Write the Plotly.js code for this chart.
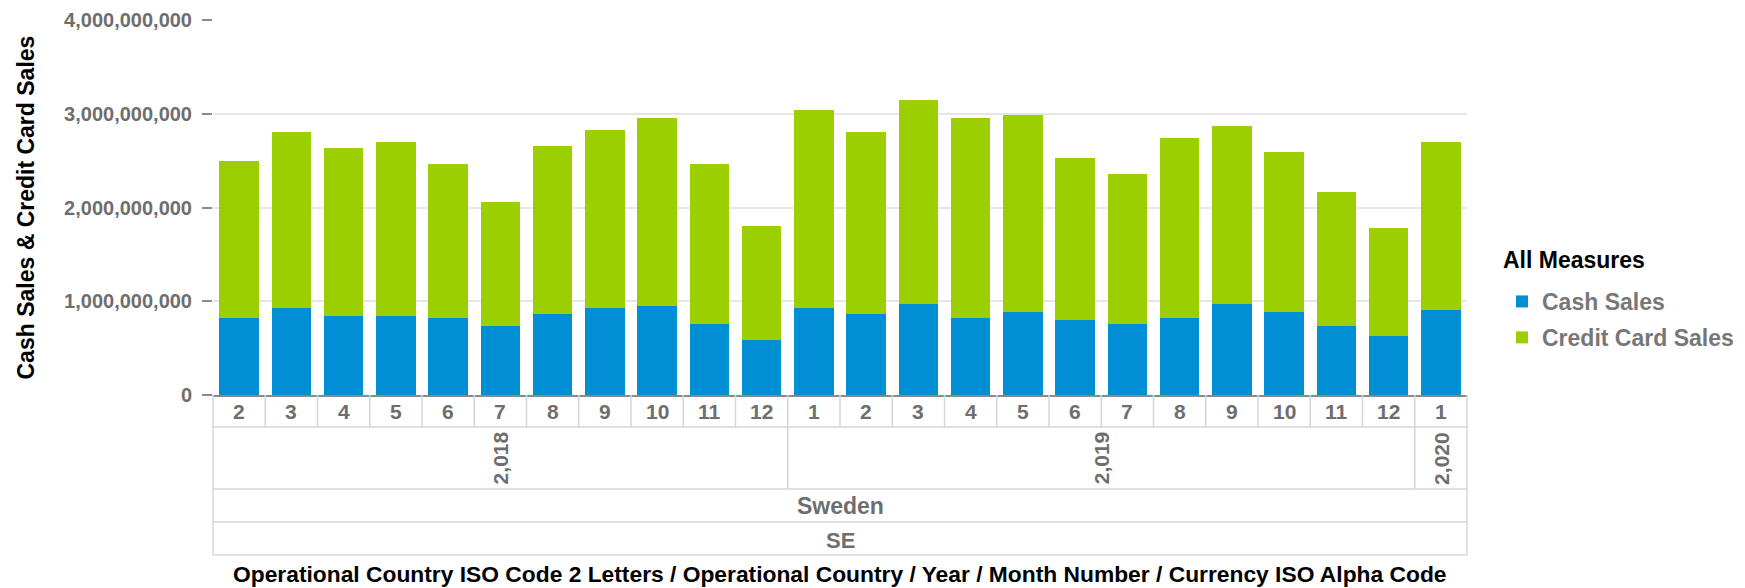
<!DOCTYPE html>
<html>
<head>
<meta charset="utf-8">
<script src="https://cdn.plot.ly/plotly-3.0.1.min.js"></script>
<style>html,body{margin:0;padding:0;background:#fff;}#chart{width:1745px;height:588px;}</style>
</head>
<body>
<div id="chart"></div>
<script>
// ---- data ----
const countryCode = 'SE';
const countryName = 'Sweden';
const years  = [2018,2018,2018,2018,2018,2018,2018,2018,2018,2018,2018,
                2019,2019,2019,2019,2019,2019,2019,2019,2019,2019,2019,2019,
                2020];
const months = [2,3,4,5,6,7,8,9,10,11,12,
                1,2,3,4,5,6,7,8,9,10,11,12,
                1];
const cashSales = [821000000, 928000000, 843000000, 843000000, 821000000, 736000000,
                   864000000, 928000000, 949000000, 757000000, 587000000,
                   928000000, 864000000, 971000000, 821000000, 885000000, 800000000,
                   757000000, 821000000, 971000000, 885000000, 736000000, 629000000,
                   907000000];
const creditCardSales = [1672000000, 1881000000, 1795000000, 1859000000, 1646000000, 1323000000,
                         1796000000, 1902000000, 2009000000, 1710000000, 1216000000,
                         2115000000, 1945000000, 2179000000, 2137000000, 2098000000, 1732000000,
                         1604000000, 1924000000, 1902000000, 1711000000, 1433000000, 1156000000,
                         1795000000];
const yTickVals = [0, 1000000000, 2000000000, 3000000000, 4000000000];

// ---- build ----
const keys = years.map((y, i) => y + '-' + months[i]);
const n = keys.length;
const FONT = '"Liberation Sans", Arial, sans-serif';
const GRAY = '#6e6e6e';
const LINE = '#d6d6d6';

const traces = [
  {type:'bar', name:'Cash Sales', x:keys, y:cashSales, legendgroup:'a',
   marker:{color:'#008FD3'}, hoverinfo:'x+y+name'},
  {type:'bar', name:'Credit Card Sales', x:keys, y:creditCardSales, legendgroup:'b',
   marker:{color:'#9BCF00'}, hoverinfo:'x+y+name'}
];

// paper y positions (plot area: 375px tall, x axis line at paper 0)
const H = 375;
const py = px => -px / H;   // px below the x axis line
const rowMonthBottom = py(32), rowYearBottom = py(94), rowCountryBottom = py(127), rowCodeBottom = py(160);

const shapes = [];
function hline(y){ shapes.push({type:'line', xref:'paper', yref:'paper', x0:0, x1:1, y0:y, y1:y, line:{color:LINE, width:1.5}}); }
function vline(x, y0, y1){ shapes.push({type:'line', xref:'paper', yref:'paper', x0:x, x1:x, y0:y0, y1:y1, line:{color:LINE, width:1.5}}); }
[rowMonthBottom, rowYearBottom, rowCountryBottom, rowCodeBottom].forEach(hline);
vline(0, 0, rowCodeBottom); vline(1, 0, rowCodeBottom);
for (let i = 1; i < n; i++) vline(i / n, 0, rowMonthBottom);
for (let i = 1; i < n; i++) if (years[i] !== years[i-1]) vline(i / n, rowMonthBottom, rowYearBottom);

const annotations = [];
keys.forEach((k, i) => annotations.push({
  x:k, xref:'x', y:py(16), yref:'paper', text:String(months[i]), showarrow:false,
  xanchor:'center', yanchor:'middle', font:{family:FONT, size:21, color:GRAY, weight:'bold'}
}));
// year groups
let start = 0;
for (let i = 1; i <= n; i++) {
  if (i === n || years[i] !== years[start]) {
    const center = (start + i - 1) / 2;
    annotations.push({
      x:center, xref:'x', y:py(63), yref:'paper', text:years[start].toLocaleString('en-US'),
      showarrow:false, textangle:-90, xanchor:'center', yanchor:'middle',
      font:{family:FONT, size:21, color:GRAY, weight:'bold'}
    });
    start = i;
  }
}
annotations.push({x:0.5, xref:'paper', y:py(111), yref:'paper', text:countryName, showarrow:false,
  xanchor:'center', yanchor:'middle', font:{family:FONT, size:23, color:GRAY, weight:'bold'}});
annotations.push({x:0.5, xref:'paper', y:py(145), yref:'paper', text:countryCode, showarrow:false,
  xanchor:'center', yanchor:'middle', font:{family:FONT, size:22, color:GRAY, weight:'bold'}});
annotations.push({x:0.5, xref:'paper', y:py(179), yref:'paper',
  text:'Operational Country ISO Code 2 Letters / Operational Country / Year / Month Number / Currency ISO Alpha Code',
  showarrow:false, xanchor:'center', yanchor:'middle', font:{family:FONT, size:22.8, color:'#000', weight:'bold'}});
annotations.push({x:(25-213)/1254, xref:'paper', y:0.5, yref:'paper', text:'Cash Sales & Credit Card Sales',
  showarrow:false, textangle:-90, xanchor:'center', yanchor:'middle',
  font:{family:FONT, size:23, color:'#000', weight:'bold'}});
// legend title
annotations.push({x:(1501-213)/1254, xref:'paper', y:(395-260)/H, yref:'paper', text:'All Measures',
  showarrow:false, xanchor:'left', yanchor:'middle',
  font:{family:FONT, size:23, color:'#000', weight:'bold'}});

const layout = {
  width:1745, height:588,
  margin:{l:213, r:278, t:20, b:193, pad:0, autoexpand:false},
  paper_bgcolor:'#fff', plot_bgcolor:'#fff',
  barmode:'stack', bargap:0.24,
  font:{family:FONT},
  showlegend:true,
  xaxis:{type:'category', categoryorder:'array', categoryarray:keys, range:[-0.5, n-0.5],
    showticklabels:false, ticks:'', showgrid:false, zeroline:false,
    showline:true, linecolor:'#8a8a8a', linewidth:2, fixedrange:true},
  yaxis:{range:[0, 4000000000], tickvals:yTickVals, tickformat:',d',
    ticks:'outside', ticklen:10, tickwidth:2, tickcolor:'#8a8a8a',
    showgrid:true, gridcolor:'#e6e6e6', gridwidth:2, zeroline:false, showline:false,
    tickfont:{family:FONT, size:20, color:GRAY, weight:'bold'}, ticklabelstandoff:6, fixedrange:true},
  legend:{x:(1502-213)/1254, xanchor:'left', y:(395-280)/H, yanchor:'top',
    traceorder:'grouped', tracegroupgap:3,
    font:{family:FONT, size:23, color:'#777', weight:'bold'}},
  shapes:shapes,
  annotations:annotations
};

Plotly.newPlot('chart', traces, layout, {displayModeBar:false});
</script>
</body>
</html>
